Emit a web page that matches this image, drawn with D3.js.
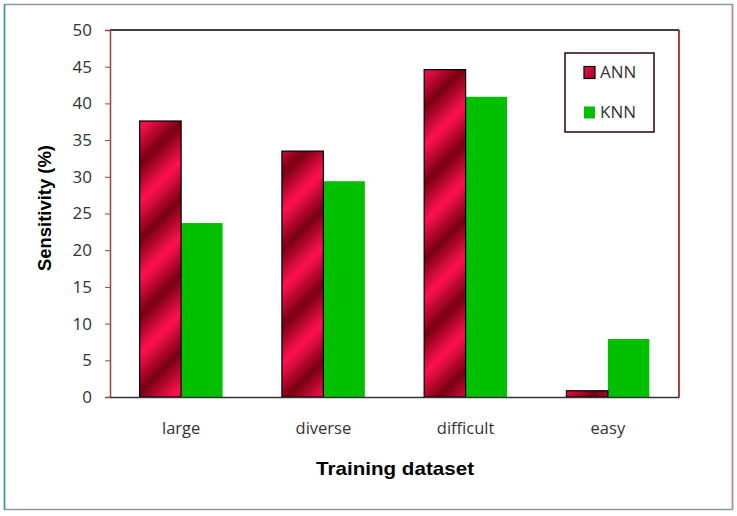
<!DOCTYPE html>
<html><head><meta charset="utf-8">
<script src="https://cdn.jsdelivr.net/npm/d3@7/dist/d3.min.js"></script>
<style>body{margin:0;background:#fff}svg{display:block}</style>
</head><body>
<script>
const categories = ["large","diverse","difficult","easy"];
const seriesNames = ["ANN","KNN"];
const annValues = [37.6, 33.5, 44.6, 0.85];
const knnValues = [23.7, 29.4, 40.9, 7.9];
const yTicks = [0,5,10,15,20,25,30,35,40,45,50];

const W=737,H=516;
const m={l:110,t:30,r:679,b:397};
const svg=d3.select("body").append("svg").attr("width",W).attr("height",H);
const defs=svg.append("defs");
const g=defs.append("linearGradient").attr("id","annGrad")
  .attr("gradientUnits","userSpaceOnUse").attr("x1",0).attr("y1",0).attr("x2",38).attr("y2",38)
  .attr("spreadMethod","repeat");
g.append("stop").attr("offset","0").attr("stop-color","#7a0010");
g.append("stop").attr("offset","0.5").attr("stop-color","#ff1050");
g.append("stop").attr("offset","1").attr("stop-color","#7a0010");

// outer frame
svg.append("rect").attr("x",4.5).attr("y",4.5).attr("width",728).attr("height",505)
  .attr("fill","#fff").attr("stroke","#8a9a9a").attr("stroke-width",1.5);
svg.append("line").attr("x1",4.5).attr("x2",4.5).attr("y1",4.5).attr("y2",509.5).attr("stroke","#3a9a9a").attr("stroke-width",1.5);
svg.append("line").attr("x1",732.5).attr("x2",732.5).attr("y1",4.5).attr("y2",509.5).attr("stroke","#c08a90").attr("stroke-width",1.5);

const x=d3.scaleBand().domain(categories).range([m.l,m.r]).paddingInner(0.417).paddingOuter(0.2085);
const xs=d3.scaleBand().domain(seriesNames).range([0,x.bandwidth()]);
const y=d3.scaleLinear().domain([0,50]).range([m.b,m.t]);

// plot border top/right
svg.append("line").attr("x1",m.l).attr("x2",m.r).attr("y1",m.t).attr("y2",m.t).attr("stroke","#000").attr("stroke-width",1.5);
svg.append("line").attr("x1",m.r).attr("x2",m.r).attr("y1",m.t).attr("y2",m.b).attr("stroke","#8b0000").attr("stroke-width",1.5);

const data=categories.map((c,i)=>({c,ANN:annValues[i],KNN:knnValues[i]}));
const grp=svg.append("g");
data.forEach(d=>{
  grp.append("rect").attr("x",x(d.c)+xs("KNN")).attr("y",y(d.KNN)).attr("width",xs.bandwidth()).attr("height",y(0)-y(d.KNN)).attr("fill","#00c000");
  grp.append("rect").attr("x",x(d.c)+xs("ANN")).attr("y",y(d.ANN)).attr("width",xs.bandwidth()).attr("height",y(0)-y(d.ANN)).attr("fill","url(#annGrad)").attr("stroke","#000").attr("stroke-width",1.2);
});

// y axis
const ya=svg.append("g").attr("transform",`translate(${m.l},0)`)
  .call(d3.axisLeft(y).tickValues(yTicks).tickSize(5).tickPadding(13));
ya.select(".domain").attr("stroke","#a0403a").attr("stroke-width",1.5);
ya.selectAll(".tick line").attr("stroke","#a0403a");
ya.selectAll("text").attr("font-family","'Open Sans',sans-serif").attr("font-size",17).attr("fill","#333");

// x axis
const xa=svg.append("g").attr("transform",`translate(0,${m.b})`)
  .call(d3.axisBottom(x).tickSize(0).tickPadding(25));
xa.select(".domain").attr("stroke","#333").attr("stroke-width",1.5);
xa.selectAll("text").attr("font-family","'Open Sans',sans-serif").attr("font-size",16.5).attr("fill","#333");

svg.append("text").attr("x",395).attr("y",475).attr("text-anchor","middle")
  .attr("font-family","'Liberation Sans',Arial,sans-serif").attr("font-weight","bold").attr("font-size",19)
  .attr("textLength",158).attr("lengthAdjust","spacingAndGlyphs").text("Training dataset");
svg.append("text").attr("transform","translate(51,208) rotate(-90)").attr("text-anchor","middle")
  .attr("font-family","'Liberation Sans',Arial,sans-serif").attr("font-weight","bold").attr("font-size",18.5)
  .attr("textLength",126).attr("lengthAdjust","spacingAndGlyphs").text("Sensitivity (%)");

// legend
const lg=svg.append("g");
lg.append("rect").attr("x",565).attr("y",53).attr("width",89).attr("height",79).attr("fill","#fff").attr("stroke","#300").attr("stroke-width",1.5);
const items=[{n:"ANN",f:"url(#annGrad)",s:"#000",yy:72.5},{n:"KNN",f:"#00c000",s:"none",yy:112.5}];
items.forEach(it=>{
  lg.append("rect").attr("x",584).attr("y",it.yy-6).attr("width",11).attr("height",12).attr("fill",it.f).attr("stroke",it.s).attr("stroke-width",1.2);
  lg.append("text").attr("x",600).attr("y",it.yy).attr("dy","0.35em").attr("font-family","'Open Sans',sans-serif").attr("font-size",17).attr("fill","#333").text(it.n);
});
</script>
</body></html>
